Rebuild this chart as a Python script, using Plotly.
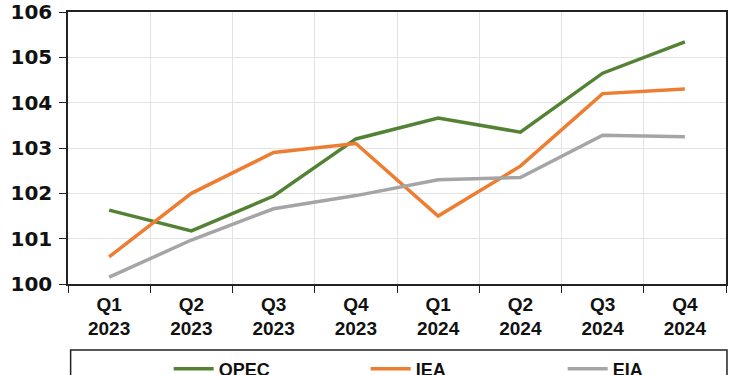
import plotly.graph_objects as go

quarters = ["Q1<br>2023", "Q2<br>2023", "Q3<br>2023", "Q4<br>2023",
            "Q1<br>2024", "Q2<br>2024", "Q3<br>2024", "Q4<br>2024"]
opec = [101.63, 101.17, 101.94, 103.20, 103.66, 103.35, 104.65, 105.34]
iea = [100.60, 102.00, 102.90, 103.10, 101.50, 102.60, 104.20, 104.30]
eia = [100.15, 100.97, 101.66, 101.95, 102.30, 102.35, 103.28, 103.25]

series = [("OPEC", opec, "#548235"), ("IEA", iea, "#ED7D31"), ("EIA", eia, "#A5A5A5")]

fig = go.Figure()
for name, vals, col in series:
    fig.add_trace(go.Scatter(x=quarters, y=vals, name=name, mode="lines",
                             line=dict(color=col, width=3.5)))

fig.update_layout(
    width=750, height=375,
    margin=dict(l=68, r=24, t=12, b=91, autoexpand=False),
    paper_bgcolor="white", plot_bgcolor="white",
    font=dict(family="Liberation Sans", color="#111111"),
    showlegend=True,
    legend=dict(orientation="h", x=0.153, xanchor="left", y=-0.245, yanchor="top",
                font=dict(family="Liberation Sans", size=18, color="#111111", weight="bold"),
                entrywidth=142, entrywidthmode="pixels", bgcolor="rgba(0,0,0,0)",
                itemwidth=40, tracegroupgap=0),
    shapes=[dict(type="rect", xref="paper", yref="paper", x0=0.004, x1=1.0015,
                 y0=-0.45, y1=-0.243, line=dict(color="#222222", width=1.5),
                 fillcolor="rgba(0,0,0,0)")],
)
fig.update_xaxes(type="category", range=[-0.5, 7.5], tickson="boundaries",
                 ticks="outside", ticklen=7,
                 tickcolor="#222222", showgrid=True, gridcolor="#E3E3E3", gridwidth=1,
                 showline=True, linecolor="#222222", linewidth=1.5, mirror=True,
                 tickfont=dict(family="Liberation Sans", size=19, color="#111111", weight="bold"),
                 ticklabelstandoff=2)
fig.update_yaxes(range=[100, 106], dtick=1, ticks="outside", ticklen=7,
                 tickcolor="#222222", showgrid=True, gridcolor="#E3E3E3", gridwidth=1,
                 showline=True, linecolor="#222222", linewidth=1.5, mirror=True,
                 zeroline=False, ticklabelstandoff=3,
                 tickfont=dict(family="DejaVu Sans", size=20, color="#111111", weight="bold"))

fig.write_html("out.html", config={"displayModeBar": False},
               post_script="document.body.style.margin='0';")
